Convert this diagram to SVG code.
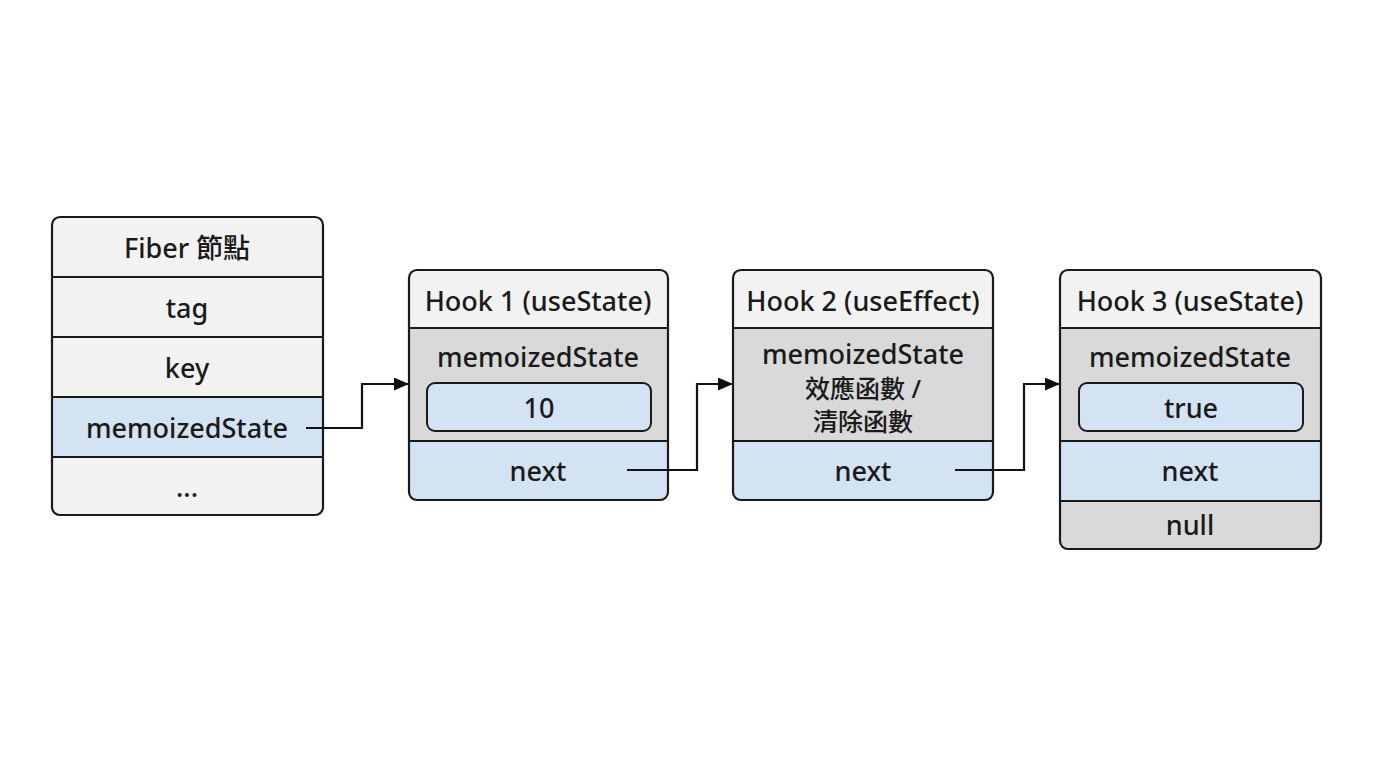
<svg xmlns="http://www.w3.org/2000/svg" width="1376" height="768" viewBox="0 0 1376 768">
<defs>
<style>
text{font-family:"Noto Sans","Noto Sans CJK TC",sans-serif;font-size:27px;font-weight:500;fill:#1a1a1a;text-anchor:middle;dominant-baseline:central}
.cjk{font-size:25px}
.hd{fill:#f2f2f2}
.gr{fill:#d9d9d9}
.bl{fill:#d3e3f3}
.ln{stroke:#1a1a1a;stroke-width:2;fill:none}
.frame{fill:none;stroke:#1a1a1a;stroke-width:2.2}
.conn{stroke:#111;stroke-width:2.2;fill:none}
</style>
<marker id="arr" viewBox="0 0 15 13" refX="14" refY="6.5" markerWidth="15" markerHeight="13" markerUnits="userSpaceOnUse" orient="auto">
<path d="M0,0 L15,6.5 L0,13 Z" fill="#111"/>
</marker>
<clipPath id="cf"><rect x="52" y="217" width="271" height="298" rx="8"/></clipPath>
<clipPath id="c1"><rect x="409" y="270" width="259" height="230" rx="8"/></clipPath>
<clipPath id="c2"><rect x="733" y="270" width="260" height="230" rx="8"/></clipPath>
<clipPath id="c3"><rect x="1060" y="270" width="261" height="279" rx="8"/></clipPath>
</defs>
<rect width="1376" height="768" fill="#ffffff"/>

<g id="fiber">
<g clip-path="url(#cf)">
<rect class="hd" x="52" y="217" width="271" height="298"/>
<rect class="bl" x="52" y="397" width="271" height="60"/>
</g>
<path class="ln" d="M52,277H323M52,337H323M52,397H323M52,457H323"/>
<rect class="frame" x="52" y="217" width="271" height="298" rx="8"/>
<text x="187" y="247">Fiber 節點</text>
<text x="187" y="307">tag</text>
<text x="187" y="367">key</text>
<text x="187" y="427">memoizedState</text>
<text x="187" y="486">...</text>
</g>

<g id="hook1">
<g clip-path="url(#c1)">
<rect class="hd" x="409" y="270" width="259" height="58"/>
<rect class="gr" x="409" y="328" width="259" height="113"/>
<rect class="bl" x="409" y="441" width="259" height="59"/>
</g>
<path class="ln" d="M409,328H668M409,441H668"/>
<rect class="frame" x="409" y="270" width="259" height="230" rx="8"/>
<text x="538" y="300">Hook 1 (useState)</text>
<text x="538" y="356">memoizedState</text>
<rect class="bl" x="427" y="383" width="224" height="48" rx="8" stroke="#1a1a1a" stroke-width="2"/>
<text x="539" y="407">10</text>
<text x="538" y="470">next</text>
</g>

<g id="hook2">
<g clip-path="url(#c2)">
<rect class="hd" x="733" y="270" width="260" height="58"/>
<rect class="gr" x="733" y="328" width="260" height="113"/>
<rect class="bl" x="733" y="441" width="260" height="59"/>
</g>
<path class="ln" d="M733,328H993M733,441H993"/>
<rect class="frame" x="733" y="270" width="260" height="230" rx="8"/>
<text x="863" y="353">memoizedState</text>
<text class="cjk" x="863" y="388">效應函數 /</text>
<text class="cjk" x="863" y="421">清除函數</text>
<text x="863" y="300">Hook 2 (useEffect)</text>
<text x="863" y="470">next</text>
</g>

<g id="hook3">
<g clip-path="url(#c3)">
<rect class="hd" x="1060" y="270" width="261" height="58"/>
<rect class="gr" x="1060" y="328" width="261" height="113"/>
<rect class="bl" x="1060" y="441" width="261" height="60"/>
<rect class="gr" x="1060" y="501" width="261" height="48"/>
</g>
<path class="ln" d="M1060,328H1321M1060,441H1321M1060,501H1321"/>
<rect class="frame" x="1060" y="270" width="261" height="279" rx="8"/>
<text x="1190" y="300">Hook 3 (useState)</text>
<text x="1190" y="356">memoizedState</text>
<rect class="bl" x="1079" y="383" width="224" height="48" rx="8" stroke="#1a1a1a" stroke-width="2"/>
<text x="1191" y="407">true</text>
<text x="1190" y="470">next</text>
<text x="1190" y="524">null</text>
</g>

<g id="connectors">
<path class="conn" d="M306,428H362V384H408" marker-end="url(#arr)"/>
<path class="conn" d="M627,470H697V384H732" marker-end="url(#arr)"/>
<path class="conn" d="M955,470H1024V384H1059" marker-end="url(#arr)"/>
</g>
</svg>
